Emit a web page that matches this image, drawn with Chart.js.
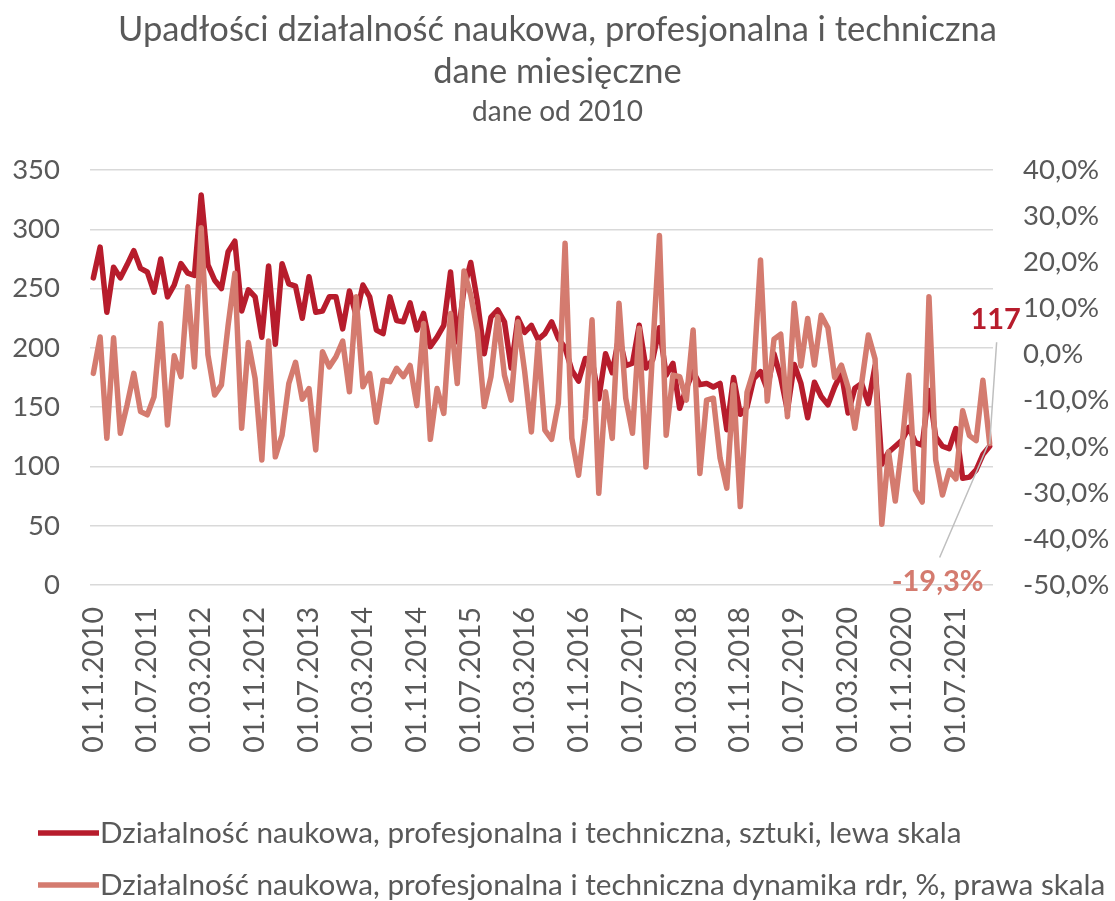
<!DOCTYPE html>
<html lang="pl">
<head>
<meta charset="utf-8">
<title>Upadłości działalność naukowa, profesjonalna i techniczna</title>
<script src="https://cdn.jsdelivr.net/npm/chart.js@4.4.1/dist/chart.umd.min.js"></script>
<style>
  html, body { margin: 0; padding: 0; background: #ffffff; }
  #wrap { position: relative; width: 1115px; height: 901px; }
</style>
</head>
<body>
<div id="wrap"><canvas id="chart" width="1115" height="901"></canvas></div>
<script>
// Monthly categories: 01.11.2010 ... 01.12.2021
const firstYear = 2010;
const firstMonth = 11;
const monthCount = 134;
const categories = [];
for (let k = 0; k < monthCount; k++) {
  const m = (firstMonth - 1 + k) % 12 + 1;
  const y = firstYear + Math.floor((firstMonth - 1 + k) / 12);
  categories.push('01.' + String(m).padStart(2, '0') + '.' + y);
}

// Number of bankruptcies (left scale)
const bankruptcies = [
  259, 285, 230, 268, 259, 270, 282, 267, 264, 247,
  275, 243, 253, 271, 263, 261, 329, 270, 257, 250,
  281, 290, 231, 249, 243, 209, 269, 203, 271, 254,
  252, 225, 260, 230, 231, 243, 243, 216, 248, 227,
  253, 243, 215, 212, 243, 223, 222, 238, 215, 229,
  201, 209, 219, 264, 205, 250, 272, 239, 195, 226,
  232, 222, 183, 225, 213, 219, 207, 212, 222, 208,
  200, 181, 172, 191, 190, 157, 195, 179, 210, 185,
  187, 219, 183, 190, 217, 177, 187, 149, 166, 180,
  169, 170, 167, 170, 131, 175, 144, 150, 174, 180,
  165, 195, 175, 147, 186, 170, 141, 171, 159, 152,
  167, 179, 145, 166, 170, 153, 185, 102, 112, 117,
  122, 133, 120, 118, 164, 125, 117, 115, 132, 90,
  91, 97, 110, 117
];

// Year-on-year change, % (right scale)
const yoyChange = [
  -4.1, 3.8, -18.2, 3.6, -17.1, -11.0, -4.1, -12.4, -13.1, -9.2,
  6.7, -15.3, -0.3, -4.8, 14.7, -2.7, 27.5, -0.1, -8.8, -6.6,
  6.4, 17.6, -16.0, 2.6, -5.2, -22.9, 2.9, -22.2, -17.5, -6.3,
  -1.7, -9.7, -7.4, -20.7, 0.6, -2.7, -0.5, 2.9, -8.1, 12.5,
  -7.0, -4.1, -14.7, -5.6, -5.9, -3.0, -4.8, -2.4, -11.1, 6.7,
  -18.4, -7.4, -12.8, 8.9, -6.3, 18.1, 12.9, 4.9, -11.3, -4.8,
  8.2, -4.5, -9.9, 7.1, -3.7, -16.8, 2.6, -16.4, -18.4, -10.6,
  24.1, -18.2, -26.2, -13.9, 7.5, -30.1, -8.1, -18.2, 11.1, -9.5,
  -17.1, 5.7, -24.4, 1.0, 25.8, -17.5, -4.5, -4.8, -9.9, 5.3,
  -25.8, -9.9, -9.5, -22.5, -29.0, -6.6, -33.0, -8.2, -3.4, 20.5,
  -10.1, 3.3, 4.4, -13.5, 11.1, -2.5, 7.8, -2.3, 8.5, 5.8,
  -5.0, -2.3, -7.2, -16.0, -6.3, 4.2, -1.0, -36.8, -21.1, -31.8,
  -19.7, -4.5, -29.4, -32.0, 12.5, -22.9, -30.5, -25.2, -27.0, -12.2,
  -17.6, -18.7, -5.6, -19.3
];

const leftTicks = [0, 50, 100, 150, 200, 250, 300, 350];
const rightTicks = [-50, -40, -30, -20, -10, 0, 10, 20, 30, 40];
const labelEvery = 8;

const seriesNames = [
  'Działalność naukowa, profesjonalna i techniczna, sztuki, lewa skala',
  'Działalność naukowa, profesjonalna i techniczna dynamika rdr, %, prawa skala'
];

const DARK = '#b71c2c';
const LIGHT = '#d47b6f';
const TEXT = '#595959';
const GRID = '#d9d9d9';
const FONT = 'Lato, "Open Sans", sans-serif';

const fmtPct = v => v.toFixed(1).replace('.', ',') + '%';

// Legend with line samples, stacked at the bottom-left
const lineLegend = {
  id: 'lineLegend',
  afterDraw(chart) {
    const ctx = chart.ctx;
    const rows = [833, 885];
    ctx.save();
    chart.data.datasets.forEach((ds, i) => {
      const y = rows[i];
      ctx.strokeStyle = ds.borderColor;
      ctx.lineWidth = 5.5;
      ctx.lineCap = 'butt';
      ctx.beginPath();
      ctx.moveTo(38, y);
      ctx.lineTo(99, y);
      ctx.stroke();
      ctx.fillStyle = TEXT;
      ctx.font = '29.7px ' + FONT;
      ctx.textBaseline = 'middle';
      ctx.textAlign = 'left';
      ctx.fillText(ds.label, 100, y);
    });
    ctx.restore();
  }
};

// Value labels with leader lines at the last point of each series
const lastValueLabels = {
  id: 'lastValueLabels',
  afterDatasetsDraw(chart) {
    const ctx = chart.ctx;
    const dsDark = chart.data.datasets[0];
    const dsLight = chart.data.datasets[1];
    const pDark = chart.getDatasetMeta(0).data[dsDark.data.length - 1];
    const pLight = chart.getDatasetMeta(1).data[dsLight.data.length - 1];
    ctx.save();
    ctx.strokeStyle = '#bfbfbf';
    ctx.lineWidth = 1.5;
    ctx.beginPath();
    ctx.moveTo(pDark.x + 7, pDark.y - 104);
    ctx.lineTo(pDark.x, pDark.y - 2);
    ctx.moveTo(pLight.x - 50, pLight.y + 114);
    ctx.lineTo(pLight.x - 2, pLight.y + 2);
    ctx.stroke();

    ctx.font = 'bold 29px ' + FONT;
    ctx.textBaseline = 'middle';
    ctx.textAlign = 'center';
    ctx.fillStyle = DARK;
    ctx.fillText(String(dsDark.data[dsDark.data.length - 1]), pDark.x + 6, pDark.y - 127);
    ctx.fillStyle = LIGHT;
    ctx.fillText(fmtPct(dsLight.data[dsLight.data.length - 1]), pLight.x - 52, pLight.y + 138);
    ctx.restore();
  }
};

new Chart(document.getElementById('chart'), {
  type: 'line',
  data: {
    labels: categories,
    datasets: [
      {
        label: seriesNames[0],
        data: bankruptcies,
        yAxisID: 'yLeft',
        borderColor: DARK,
        backgroundColor: DARK,
        borderWidth: 5.5,
        pointRadius: 0,
        tension: 0,
        borderJoinStyle: 'round',
        borderCapStyle: 'round',
        order: 1
      },
      {
        label: seriesNames[1],
        data: yoyChange,
        yAxisID: 'yRight',
        borderColor: LIGHT,
        backgroundColor: LIGHT,
        borderWidth: 5.5,
        pointRadius: 0,
        tension: 0,
        borderJoinStyle: 'round',
        borderCapStyle: 'round',
        order: 0
      }
    ]
  },
  options: {
    responsive: false,
    animation: false,
    events: [],
    layout: { padding: { top: 0, left: 0, right: 0, bottom: 0 } },
    plugins: {
      legend: { display: false },
      tooltip: { enabled: false },
      title: {
        display: true,
        text: ['Upadłości działalność naukowa, profesjonalna i techniczna', 'dane miesięczne'],
        color: TEXT,
        font: { family: FONT, size: 34.5, weight: 'normal', lineHeight: 42 / 34.5 },
        padding: { top: 9, bottom: 0 }
      },
      subtitle: {
        display: true,
        text: 'dane od 2010',
        color: TEXT,
        font: { family: FONT, size: 28, weight: 'normal', lineHeight: 1.0 },
        padding: { top: 5, bottom: 44 }
      }
    },
    scales: {
      x: {
        type: 'category',
        offset: true,
        grid: { display: false, drawTicks: false },
        border: { display: false },
        ticks: {
          autoSkip: false,
          minRotation: 90,
          maxRotation: 90,
          padding: 22,
          color: TEXT,
          font: { family: FONT, size: 28.5 },
          callback(value, index) {
            return index % labelEvery === 0 ? this.getLabelForValue(value) : null;
          }
        },
        afterFit(scale) { scale.height = 316; }
      },
      yLeft: {
        type: 'linear',
        position: 'left',
        min: leftTicks[0],
        max: leftTicks[leftTicks.length - 1],
        afterBuildTicks(scale) { scale.ticks = leftTicks.map(v => ({ value: v })); },
        grid: { color: GRID, lineWidth: 1.5, drawTicks: false },
        border: { display: false },
        ticks: {
          padding: 30,
          color: TEXT,
          font: { family: FONT, size: 27.5 }
        },
        afterFit(scale) { scale.width = 90; }
      },
      yRight: {
        type: 'linear',
        position: 'right',
        min: rightTicks[0],
        max: rightTicks[rightTicks.length - 1],
        afterBuildTicks(scale) { scale.ticks = rightTicks.map(v => ({ value: v })); },
        grid: { display: false, drawTicks: false },
        border: { display: false },
        ticks: {
          padding: 30,
          color: TEXT,
          font: { family: FONT, size: 27.5 },
          callback: v => fmtPct(v)
        },
        afterFit(scale) { scale.width = 122; }
      }
    }
  },
  plugins: [lastValueLabels, lineLegend]
});
</script>
</body>
</html>
